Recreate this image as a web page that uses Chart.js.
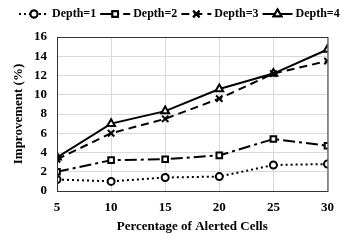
<!DOCTYPE html>
<html>
<head>
<meta charset="utf-8">
<script src="https://cdn.jsdelivr.net/npm/chart.js@4"></script>
<style>
  html, body { margin: 0; padding: 0; background: #fff; }
  #wrap { width: 343px; height: 240px; position: relative; }
</style>
</head>
<body>
<div id="wrap"><canvas id="chart"></canvas></div>
<script>
const FONT = '"Liberation Serif", "Times New Roman", serif';

const percentages = [5, 10, 15, 20, 25, 30];
const depth1 = [1.2, 1.0, 1.4, 1.5, 2.7, 2.8];
const depth2 = [2.0, 3.2, 3.3, 3.7, 5.4, 4.7];
const depth3 = [3.3, 6.0, 7.5, 9.6, 12.2, 13.5];
const depth4 = [3.5, 7.0, 8.3, 10.6, 12.2, 14.7];
const seriesLabels = ['Depth=1', 'Depth=2', 'Depth=3', 'Depth=4'];

const toPoints = (vals) => vals.map((v, i) => ({ x: percentages[i], y: v }));

const styles = [
  { dash: [2, 3], point: 'circle', radius: 3.5 },
  { dash: [12, 4, 3, 4], point: 'rect', radius: 4 },
  { dash: [8, 5], point: 'crossRot', radius: 4.5 },
  { dash: [], point: 'triangle', radius: 4.5 },
];

const datasets = [depth1, depth2, depth3, depth4].map((vals, i) => ({
  label: seriesLabels[i],
  data: toPoints(vals),
  borderColor: '#000',
  backgroundColor: '#fff',
  borderWidth: 2,
  borderDash: styles[i].dash,
  pointStyle: styles[i].point,
  pointRadius: styles[i].radius,
  pointBorderWidth: 2,
  pointBorderColor: '#000',
  pointBackgroundColor: '#fff',
  tension: 0,
}));

// legend drawn by hand: line sample + marker + text, all in one row
const topLegend = {
  id: 'topLegend',
  afterDraw(chart) {
    const ctx = chart.ctx;
    ctx.save();
    ctx.font = 'bold 12px ' + FONT;
    ctx.textBaseline = 'middle';
    let x = 19;
    const y = 14;
    chart.data.datasets.forEach((ds) => {
      const lineW = 30;
      ctx.strokeStyle = '#000';
      ctx.lineWidth = 2;
      ctx.setLineDash(ds.borderDash);
      ctx.beginPath();
      ctx.moveTo(x, y);
      ctx.lineTo(x + lineW, y);
      ctx.stroke();
      ctx.setLineDash([]);
      Chart.helpers.drawPoint(ctx, {
        pointStyle: ds.pointStyle,
        radius: ds.pointRadius,
        borderWidth: 2,
      }, x + lineW / 2, y);
      ctx.fillStyle = '#fff';
      ctx.fill();
      ctx.stroke();
      ctx.fillStyle = '#000';
      ctx.fillText(ds.label, x + lineW + 3, y);
      x += lineW + 3 + ctx.measureText(ds.label).width + 4;
    });
    ctx.restore();
  },
};

const plotBorder = {
  id: 'plotBorder',
  afterDatasetsDraw(chart) {
    const { ctx, chartArea: a } = chart;
    ctx.save();
    ctx.strokeStyle = '#333';
    ctx.lineWidth = 1;
    ctx.strokeRect(a.left + 0.5, a.top + 0.5, a.right - a.left, a.bottom - a.top);
    ctx.restore();
  },
};

new Chart(document.getElementById('chart'), {
  type: 'line',
  data: { datasets },
  options: {
    responsive: true,
    maintainAspectRatio: false,
    animation: false,
    layout: { padding: { top: 37, right: 9, left: 0, bottom: 0 } },
    plugins: { legend: { display: false }, tooltip: { enabled: false } },
    scales: {
      x: {
        type: 'linear',
        min: 5,
        max: 30,
        ticks: { stepSize: 5, autoSkip: false, color: '#000', font: { family: FONT, size: 13, weight: 'bold' }, padding: 9 },
        grid: { color: '#d9d9d9', drawTicks: false },
        border: { display: false },
        title: { display: true, text: 'Percentage of Alerted Cells', color: '#000', font: { family: FONT, size: 13, weight: 'bold' }, padding: { top: 2, bottom: 6 } },
        afterFit(scale) { scale.height = 49; },
      },
      y: {
        min: 0,
        max: 16,
        ticks: { stepSize: 2, autoSkip: false, color: '#000', font: { family: FONT, size: 13, weight: 'bold' }, padding: 10 },
        grid: { color: '#d9d9d9', drawTicks: false },
        border: { display: false },
        title: { display: true, text: 'Improvement (%)', color: '#000', font: { family: FONT, size: 13, weight: 'bold' }, padding: { top: 11, bottom: 0 } },
        afterFit(scale) { scale.width = 57; },
      },
    },
  },
  plugins: [topLegend, plotBorder],
});
</script>
</body>
</html>
